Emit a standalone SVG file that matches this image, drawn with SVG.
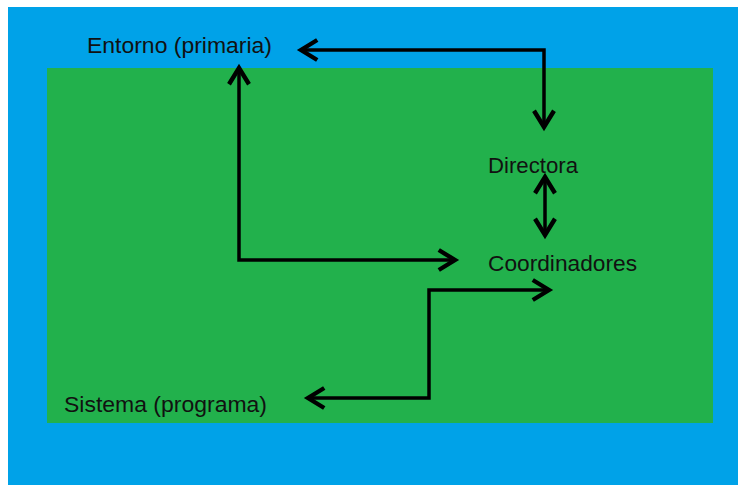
<svg xmlns="http://www.w3.org/2000/svg" width="738" height="485" viewBox="0 0 738 485">
  <defs>
    <style>
      .lbl { font-family: "Liberation Sans", Arial, sans-serif; font-size: 22px; fill: #111111; }
      .conn { fill: none; stroke: #000000; stroke-width: 3.5; stroke-linejoin: miter; }
    </style>
    <marker id="arr" markerUnits="userSpaceOnUse" markerWidth="30" markerHeight="30" refX="0" refY="0" viewBox="-16 -12 20 24" orient="auto-start-reverse" overflow="visible">
      <path d="M -13 -8 L 0 0 L -13 8" fill="none" stroke="#000000" stroke-width="3.5" stroke-linejoin="miter"/>
    </marker>
  </defs>
  <rect x="0" y="0" width="738" height="485" fill="#ffffff"/>
  <rect id="fondo-entorno" x="8" y="7" width="730" height="478" fill="#00A2E8"/>
  <rect id="fondo-sistema" x="47" y="68" width="666" height="355" fill="#22B14C"/>

  <g id="connectors">
    <path class="conn" d="M 301 50 L 544 50 L 544 127" marker-start="url(#arr)" marker-end="url(#arr)"/>
    <path class="conn" d="M 239 68 L 239 260 L 455 260" marker-start="url(#arr)" marker-end="url(#arr)"/>
    <path class="conn" d="M 545 177 L 545 235" marker-start="url(#arr)" marker-end="url(#arr)"/>
    <path class="conn" d="M 549 290 L 429 290 L 429 398 L 308 398" marker-start="url(#arr)" marker-end="url(#arr)"/>
  </g>

  <g id="entorno">
    <text class="lbl" x="87" y="53" textLength="185" lengthAdjust="spacingAndGlyphs">Entorno (primaria)</text>
  </g>
  <g id="directora">
    <text class="lbl" x="488" y="173" textLength="90" lengthAdjust="spacingAndGlyphs">Directora</text>
  </g>
  <g id="coordinadores">
    <text class="lbl" x="488" y="271" textLength="149" lengthAdjust="spacingAndGlyphs">Coordinadores</text>
  </g>
  <g id="sistema">
    <text class="lbl" x="64" y="412" textLength="203" lengthAdjust="spacingAndGlyphs">Sistema (programa)</text>
  </g>
</svg>
